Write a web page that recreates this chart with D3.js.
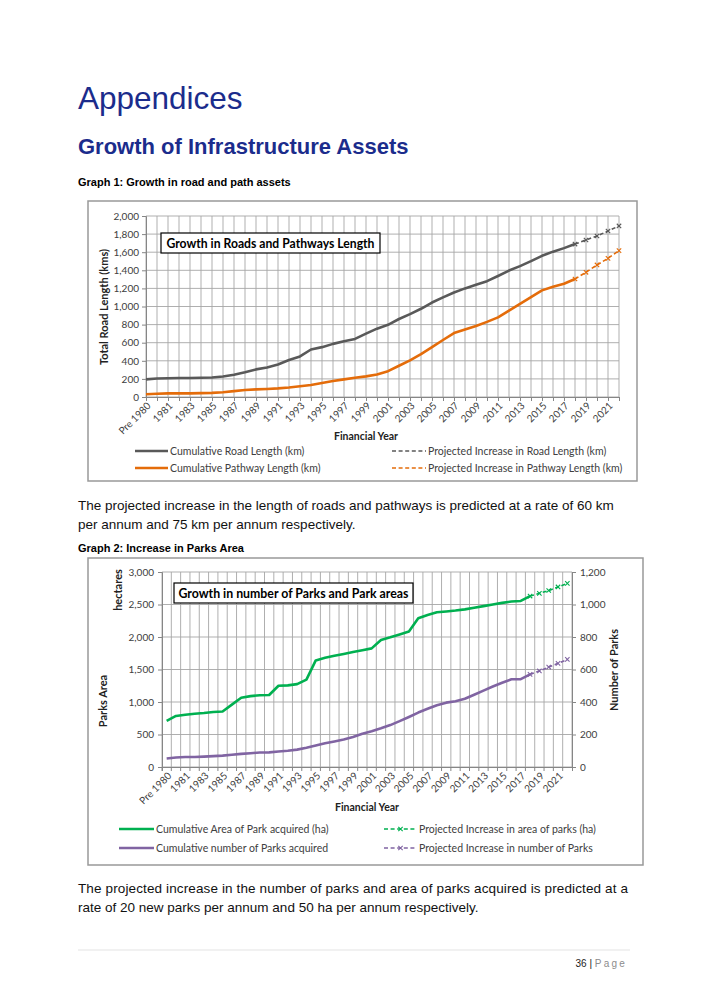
<!DOCTYPE html>
<html><head><meta charset="utf-8">
<script src="https://cdn.jsdelivr.net/npm/d3@7/dist/d3.min.js"></script>
<style>body{margin:0;background:#fff}svg{display:block}</style>
</head><body>
<svg id="page" width="706" height="1005"></svg>
<script>
// ---------------- DATA ----------------
const categories = ["Pre 1980","1980","1981","1982","1983","1984","1985","1986","1987","1988","1989","1990",
  "1991","1992","1993","1994","1995","1996","1997","1998","1999","2000",
  "2001","2002","2003","2004","2005","2006","2007","2008","2009","2010",
  "2011","2012","2013","2014","2015","2016","2017","2018","2019","2020","2021","2022"];
const xTickLabels = ["Pre 1980","1981","1983","1985","1987","1989","1991","1993","1995","1997","1999",
  "2001","2003","2005","2007","2009","2011","2013","2015","2017","2019","2021"];
const actualCategories = categories.slice(0, 40);           // Pre 1980 .. 2018
const projCategories = ["2018","2019","2020","2021","2022"];

// Graph 1 (km)
const roadLength = [195,205,208,210,210,213,216,226,246,274,305,326,359,408,448,525,551,587,617,642,
  700,755,798,862,916,975,1044,1101,1155,1200,1241,1280,1337,1397,1446,1501,1560,1606,1645,1690];
const roadProjected = [1690,1735,1779,1834,1890];
const pathLength = [30,36,40,40,40,43,46,53,65,77,84,89,95,105,118,133,155,176,195,212,
  228,248,285,345,405,474,552,630,706,746,785,830,880,955,1028,1104,1178,1219,1252,1304];
const pathProjected = [1304,1378,1459,1532,1617];
const roadTicks = [0,200,400,600,800,1000,1200,1400,1600,1800,2000];

// Graph 2
const parkArea = [709,785,805,820,830,845,855,960,1065,1090,1105,1108,1250,1256,1275,1345,1640,1680,1710,1740,
  1768,1795,1825,1955,1995,2040,2085,2290,2340,2380,2393,2407,2425,2450,2475,2500,2525,2545,2555,2630];
const parkAreaProjected = [2630,2672,2715,2770,2825];
const parkCount = [52,58,62,62,64,67,70,75,81,85,89,90,95,100,107,118,132,146,157,169,
  185,205,220,238,258,282,308,335,358,380,396,405,420,445,470,495,518,540,541,570];
const parkCountProjected = [570,591,615,638,662];
const areaTicks = [0,500,1000,1500,2000,2500,3000];
const countTicks = [0,200,400,600,800,1000,1200];

// ---------------- STYLE ----------------
const C = {grey:"#595959", orange:"#E46C0A", green:"#00B050", purple:"#8064A2",
  grid:"#A6A6A6", axis:"#868686", text:"#404040", navy:"#1b2c8c"};
const chartFont = "Lato, 'Open Sans', sans-serif";
const pageFont = "'Liberation Sans', Arial, sans-serif";

const svg = d3.select("#page");
svg.append("rect").attr("width",706).attr("height",1005).attr("fill","#fff");

// ---------------- PAGE TEXT ----------------
svg.append("text").attr("x",78).attr("y",108.5).attr("font-family",pageFont).attr("font-size",31.5)
  .attr("fill",C.navy).text("Appendices");
svg.append("text").attr("x",78).attr("y",154).attr("font-family",pageFont).attr("font-size",22)
  .attr("font-weight","bold").attr("fill",C.navy).text("Growth of Infrastructure Assets");
svg.append("text").attr("x",78).attr("y",186).attr("font-family",pageFont).attr("font-size",11)
  .attr("font-weight","bold").attr("fill","#000").text("Graph 1: Growth in road and path assets");
const para1 = ["The projected increase in the length of roads and pathways is predicted at a rate of 60 km",
  "per annum and 75 km per annum respectively."];
para1.forEach((t,i)=>svg.append("text").attr("x",78).attr("y",510+i*18.5).attr("font-family",pageFont)
  .attr("font-size",13.5).attr("fill","#111").text(t));
svg.append("text").attr("x",78).attr("y",552).attr("font-family",pageFont).attr("font-size",11)
  .attr("font-weight","bold").attr("fill","#000").text("Graph 2: Increase in Parks Area");
const para2 = ["The projected increase in the number of parks and area of parks acquired is predicted at a",
  "rate of 20 new parks per annum and 50 ha per annum respectively."];
para2.forEach((t,i)=>{
  const tx = svg.append("text").attr("x",78).attr("y",893+i*18.5).attr("font-family",pageFont)
    .attr("font-size",13.5).attr("fill","#111").text(t);
  if(i===0) tx.attr("textLength",550).attr("lengthAdjust","spacing");
});
svg.append("line").attr("x1",78).attr("x2",630).attr("y1",950).attr("y2",950).attr("stroke","#e3e3e3");
const foot = svg.append("text").attr("x",627).attr("y",967).attr("text-anchor","end")
  .attr("font-family",pageFont).attr("font-size",10);
foot.append("tspan").attr("fill","#222").text("36 | ");
foot.append("tspan").attr("fill","#8c8c8c").attr("letter-spacing","2.2").text("Page");

// ---------------- HELPERS ----------------
const crossPath = "M-2.2,-2.2L2.2,2.2M-2.2,2.2L2.2,-2.2";
function titleBox(g, x, y, w, h, label, tl){
  g.append("rect").attr("x",x).attr("y",y).attr("width",w).attr("height",h)
    .attr("fill","#fff").attr("stroke","#000").attr("stroke-width",1.2);
  g.append("text").attr("x",x+w/2).attr("y",y+h/2).attr("dy","0.36em").attr("text-anchor","middle")
    .attr("font-family",chartFont).attr("font-weight","bold").attr("font-size",13).attr("fill","#000")
    .attr("textLength",tl).attr("lengthAdjust","spacingAndGlyphs").text(label);
}
function legendItem(g, x1, x2, y, color, dashed, marker, label){
  g.append("line").attr("x1",x1).attr("x2",x2).attr("y1",y).attr("y2",y).attr("stroke",color)
    .attr("stroke-width",dashed?1.6:2.6).attr("stroke-dasharray",dashed?"4,2.6":null);
  if(marker) g.append("path").attr("d",crossPath).attr("transform",`translate(${(x1+x2)/2},${y})`)
    .attr("stroke",color).attr("stroke-width",1.1).attr("fill","none");
  g.append("text").attr("x",x2+2).attr("y",y).attr("dy","0.35em").attr("font-family",chartFont)
    .attr("font-size",10.5).attr("fill",C.text).text(label);
}

// ---------------- GRAPH 1 ----------------
(function(){
  const g = svg.append("g");
  g.append("rect").attr("x",88).attr("y",201).attr("width",549).attr("height",280)
    .attr("fill","#fff").attr("stroke","#999").attr("stroke-width",1.5);
  const x = d3.scalePoint().domain(categories).range([146,619]);
  const y = d3.scaleLinear().domain([0,2000]).range([397,216]);
  // gridlines
  g.append("g").selectAll("line").data(roadTicks).join("line")
    .attr("x1",146).attr("x2",619).attr("y1",d=>y(d)).attr("y2",d=>y(d)).attr("stroke",C.grid).attr("stroke-width",0.9);
  g.append("g").selectAll("line").data(categories).join("line")
    .attr("x1",d=>x(d)).attr("x2",d=>x(d)).attr("y1",y(0)).attr("y2",y(2000)).attr("stroke",C.grid).attr("stroke-width",0.9);
  // axes
  const ya = g.append("g").attr("transform","translate(146,0)")
    .call(d3.axisLeft(y).tickValues(roadTicks).tickFormat(d3.format(",")).tickSize(4).tickPadding(3));
  const xa = g.append("g").attr("transform",`translate(0,${y(0)})`)
    .call(d3.axisBottom(x).tickSize(4).tickFormat(""));
  [ya,xa].forEach(a=>{a.select(".domain").attr("stroke",C.axis); a.selectAll(".tick line").attr("stroke",C.axis);});
  ya.selectAll("text").attr("font-family",chartFont).attr("font-size",10).attr("fill",C.text);
  g.append("g").selectAll("text").data(xTickLabels).join("text")
    .attr("transform",d=>`translate(${x(d)+3},${y(0)+7}) rotate(-45)`)
    .attr("text-anchor","end").attr("dy","0.35em").attr("font-family",chartFont).attr("font-size",10)
    .attr("fill",C.text).text(d=>d);
  // titles
  g.append("text").attr("transform","translate(108,307) rotate(-90)").attr("text-anchor","middle")
    .attr("font-family",chartFont).attr("font-weight","bold").attr("font-size",11).attr("fill","#222")
    .text("Total Road Length (kms)");
  g.append("text").attr("x",366).attr("y",440).attr("text-anchor","middle")
    .attr("font-family",chartFont).attr("font-weight","bold").attr("font-size",10.5).attr("fill","#222")
    .text("Financial Year");
  // lines
  const lineA = d3.line().x((d,i)=>x(actualCategories[i])).y(d=>y(d));
  const lineP = d3.line().x((d,i)=>x(projCategories[i])).y(d=>y(d));
  [[roadLength,roadProjected,C.grey],[pathLength,pathProjected,C.orange]].forEach(([a,p,c])=>{
    g.append("path").attr("d",lineA(a)).attr("fill","none").attr("stroke",c).attr("stroke-width",2.6)
      .attr("stroke-linejoin","round");
    g.append("path").attr("d",lineP(p)).attr("fill","none").attr("stroke",c).attr("stroke-width",1.6)
      .attr("stroke-dasharray","4,2.6");
    g.append("g").selectAll("path").data(p).join("path").attr("d",crossPath)
      .attr("transform",(d,i)=>`translate(${x(projCategories[i])},${y(d)})`)
      .attr("stroke",c).attr("stroke-width",1.1).attr("fill","none");
  });
  titleBox(g,161,233,219,20,"Growth in Roads and Pathways Length",208);
  legendItem(g,135,168,451,C.grey,false,false,"Cumulative Road Length (km)");
  legendItem(g,135,168,468,C.orange,false,false,"Cumulative Pathway Length (km)");
  legendItem(g,392,426,451,C.grey,true,false,"Projected Increase in Road Length (km)");
  legendItem(g,392,426,468,C.orange,true,false,"Projected Increase in Pathway Length (km)");
})();

// ---------------- GRAPH 2 ----------------
(function(){
  const g = svg.append("g");
  g.append("rect").attr("x",88).attr("y",558).attr("width",555).attr("height",307)
    .attr("fill","#fff").attr("stroke","#999").attr("stroke-width",1.5);
  const x = d3.scaleBand().domain(categories).range([162,572]);
  const cx = d => x(d) + x.bandwidth()/2;
  const yL = d3.scaleLinear().domain([0,3000]).range([767,572]);
  const yR = d3.scaleLinear().domain([0,1200]).range([767,572]);
  // gridlines
  g.append("g").selectAll("line").data(areaTicks).join("line")
    .attr("x1",162).attr("x2",572).attr("y1",d=>yL(d)).attr("y2",d=>yL(d)).attr("stroke",C.grid).attr("stroke-width",0.9);
  g.append("g").selectAll("line").data(categories.concat(["end"])).join("line")
    .attr("x1",(d,i)=>i<categories.length?x(d):572).attr("x2",(d,i)=>i<categories.length?x(d):572)
    .attr("y1",yL(0)).attr("y2",yL(3000)).attr("stroke",C.grid).attr("stroke-width",0.9);
  // axes
  const ya = g.append("g").attr("transform","translate(162,0)")
    .call(d3.axisLeft(yL).tickValues(areaTicks).tickFormat(d3.format(",")).tickSize(4).tickPadding(4));
  const yb = g.append("g").attr("transform","translate(572,0)")
    .call(d3.axisRight(yR).tickValues(countTicks).tickFormat(d3.format(",")).tickSize(4).tickPadding(4));
  const xa = g.append("g").attr("transform",`translate(0,${yL(0)})`)
    .call(d3.axisBottom(x).tickSize(4).tickFormat(""));
  xa.selectAll(".tick").attr("transform",d=>`translate(${x(d)},0)`);
  [ya,yb,xa].forEach(a=>{a.select(".domain").attr("stroke",C.axis); a.selectAll(".tick line").attr("stroke",C.axis);});
  [ya,yb].forEach(a=>a.selectAll("text").attr("font-family",chartFont).attr("font-size",10).attr("fill",C.text));
  g.append("g").selectAll("text").data(xTickLabels).join("text")
    .attr("transform",d=>`translate(${cx(d)+3},${yL(0)+7}) rotate(-45)`)
    .attr("text-anchor","end").attr("dy","0.35em").attr("font-family",chartFont).attr("font-size",10)
    .attr("fill",C.text).text(d=>d);
  // titles
  const axt = (tx,ty,label)=>g.append("text").attr("transform",`translate(${tx},${ty}) rotate(-90)`)
    .attr("text-anchor","middle").attr("font-family",chartFont).attr("font-weight","bold")
    .attr("font-size",11).attr("fill","#222").text(label);
  axt(122,590,"hectares");
  axt(107,701,"Parks Area");
  axt(618,670,"Number of Parks");
  g.append("text").attr("x",367).attr("y",811).attr("text-anchor","middle")
    .attr("font-family",chartFont).attr("font-weight","bold").attr("font-size",10.5).attr("fill","#222")
    .text("Financial Year");
  // lines
  [[parkArea,parkAreaProjected,C.green,yL],[parkCount,parkCountProjected,C.purple,yR]].forEach(([a,p,c,ys])=>{
    const lineA = d3.line().x((d,i)=>cx(actualCategories[i])).y(d=>ys(d));
    const lineP = d3.line().x((d,i)=>cx(projCategories[i])).y(d=>ys(d));
    g.append("path").attr("d",lineA(a)).attr("fill","none").attr("stroke",c).attr("stroke-width",2.6)
      .attr("stroke-linejoin","round");
    g.append("path").attr("d",lineP(p)).attr("fill","none").attr("stroke",c).attr("stroke-width",1.6)
      .attr("stroke-dasharray","4,2.6");
    g.append("g").selectAll("path").data(p).join("path").attr("d",crossPath)
      .attr("transform",(d,i)=>`translate(${cx(projCategories[i])},${ys(d)})`)
      .attr("stroke",c).attr("stroke-width",1.1).attr("fill","none");
  });
  titleBox(g,174,583,239,20,"Growth in number of Parks and Park areas",230);
  legendItem(g,119,154,829,C.green,false,false,"Cumulative Area of Park acquired (ha)");
  legendItem(g,119,154,848,C.purple,false,false,"Cumulative number of Parks acquired");
  legendItem(g,384,417,829,C.green,true,true,"Projected Increase in area of parks (ha)");
  legendItem(g,384,417,848,C.purple,true,true,"Projected Increase in  number of Parks");
})();
</script>
</body></html>
